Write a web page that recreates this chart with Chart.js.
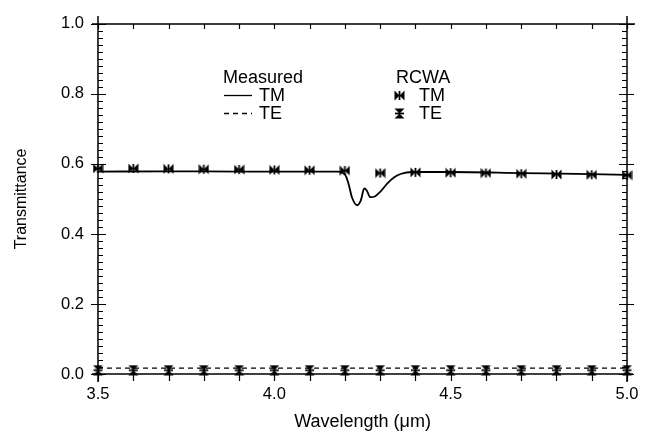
<!DOCTYPE html>
<html lang="en">
<head>
    <meta charset="UTF-8">
    <title>Transmittance vs Wavelength</title>
    <script src="https://cdn.jsdelivr.net/npm/chart.js@4.4.1/dist/chart.umd.min.js"></script>
    <style>
        html, body { margin: 0; padding: 0; background: #fff; }
        #wrap { width: 652px; height: 436px; position: relative; }
    </style>
</head>
<body>
    <div id="wrap"><canvas id="chart"></canvas></div>

    <script>
        // Measured TM (solid line)
        const tmWavelength = [3.5, 3.7, 3.9, 4.1, 4.18, 4.2, 4.21, 4.22, 4.235, 4.245, 4.255, 4.262, 4.272, 4.285, 4.3, 4.32, 4.34, 4.36, 4.39, 4.5, 4.7, 4.9, 5.0];
        const tmMeasured = [0.578, 0.579, 0.578, 0.578, 0.578, 0.570, 0.545, 0.505, 0.482, 0.495, 0.530, 0.524, 0.505, 0.507, 0.520, 0.544, 0.562, 0.572, 0.577, 0.577, 0.574, 0.571, 0.569];

        // Measured TE (dashed line)
        const teWavelength = [3.5, 3.75, 4.0, 4.25, 4.5, 4.75, 5.0];
        const teMeasured = [0.017, 0.017, 0.017, 0.017, 0.017, 0.017, 0.017];

        // RCWA calculations (markers)
        const rcwaWavelength = [3.5, 3.6, 3.7, 3.8, 3.9, 4.0, 4.1, 4.2, 4.3, 4.4, 4.5, 4.6, 4.7, 4.8, 4.9, 5.0];
        const rcwaTM = [0.587, 0.587, 0.586, 0.585, 0.584, 0.583, 0.582, 0.581, 0.574, 0.576, 0.575, 0.574, 0.572, 0.570, 0.569, 0.568];
        const rcwaTE = [0.011, 0.011, 0.011, 0.011, 0.011, 0.011, 0.011, 0.011, 0.011, 0.011, 0.011, 0.011, 0.011, 0.011, 0.011, 0.011];

        const yLabels = [0, 0.2, 0.4, 0.6, 0.8, 1.0];
        const xLabels = [3.5, 4.0, 4.5, 5.0];

        const FONT = "'Liberation Sans', Arial, sans-serif";

        function makeMarker(kind) {
            const c = document.createElement('canvas');
            c.width = 11; c.height = 11;
            const g = c.getContext('2d');
            g.fillStyle = '#000';
            g.beginPath();
            if (kind === 'bowtie') {
                g.moveTo(0.5, 0.5); g.lineTo(5.5, 5.5); g.lineTo(0.5, 10.5); g.closePath();
                g.moveTo(10.5, 0.5); g.lineTo(5.5, 5.5); g.lineTo(10.5, 10.5); g.closePath();
                g.fill();
                g.fillRect(4.6, 1, 1.8, 9);
            } else {
                g.moveTo(0.5, 0.5); g.lineTo(10.5, 0.5); g.lineTo(5.5, 5.5); g.closePath();
                g.moveTo(0.5, 10.5); g.lineTo(10.5, 10.5); g.lineTo(5.5, 5.5); g.closePath();
                g.fill();
                g.fillRect(1, 4.6, 9, 1.8);
            }
            return c;
        }
        const bowtie = makeMarker('bowtie');
        const hourglass = makeMarker('hourglass');

        const pts = (xs, ys) => xs.map((x, i) => ({ x: x, y: ys[i] }));

        // frame, ticks and the inset legend
        const framePlugin = {
            id: 'frame',
            afterDraw(chart) {
                const ctx = chart.ctx;
                const xs = chart.scales.x, ys = chart.scales.y;
                const L = xs.left, R = xs.right, T = ys.top, B = ys.bottom;
                ctx.save();
                ctx.strokeStyle = '#000';
                ctx.lineWidth = 1.5;
                ctx.beginPath();
                ctx.moveTo(L, T - 8); ctx.lineTo(L, B + 8);
                ctx.moveTo(R, T - 8); ctx.lineTo(R, B + 8);
                ctx.moveTo(L - 6, B); ctx.lineTo(R + 6, B);
                ctx.moveTo(L - 6, T); ctx.lineTo(R + 8, T);
                ctx.stroke();

                ctx.lineWidth = 1.2;
                ctx.beginPath();
                // y ticks every 0.02, longer at labelled values
                for (let i = 0; i <= 50; i++) {
                    const py = Math.round(ys.getPixelForValue(i * 0.02)) + 0.5;
                    const major = i % 10 === 0;
                    ctx.moveTo(major ? L - 7 : L, py); ctx.lineTo(L + (major ? 8 : 5), py);
                    ctx.moveTo(major ? R + 7 : R, py); ctx.lineTo(R - (major ? 8 : 5), py);
                }
                // x ticks every 0.1
                for (let i = 0; i <= 15; i++) {
                    const px = Math.round(xs.getPixelForValue(3.5 + i * 0.1)) + 0.5;
                    ctx.moveTo(px, B + 7); ctx.lineTo(px, B - 6);
                    ctx.moveTo(px, T); ctx.lineTo(px, T + 5);
                }
                ctx.stroke();

                // legend
                ctx.fillStyle = '#000';
                ctx.font = '18px ' + FONT;
                ctx.textBaseline = 'middle';
                ctx.textAlign = 'left';
                ctx.fillText('Measured', 223, 78);
                ctx.fillText('TM', 259, 96);
                ctx.fillText('TE', 259, 114);
                ctx.fillText('RCWA', 396, 78);
                ctx.fillText('TM', 419, 96);
                ctx.fillText('TE', 419, 114);
                ctx.lineWidth = 1.3;
                ctx.beginPath();
                ctx.moveTo(224, 95.5); ctx.lineTo(252, 95.5);
                ctx.stroke();
                ctx.setLineDash([5, 4]);
                ctx.beginPath();
                ctx.moveTo(224, 113.5); ctx.lineTo(252, 113.5);
                ctx.stroke();
                ctx.setLineDash([]);
                ctx.drawImage(bowtie, 394, 90);
                ctx.drawImage(hourglass, 394, 108);
                ctx.restore();
            }
        };

        new Chart(document.getElementById('chart'), {
            type: 'line',
            data: {
                datasets: [
                    {
                        label: 'Measured TM',
                        data: pts(tmWavelength, tmMeasured),
                        borderColor: '#000',
                        borderWidth: 1.8,
                        pointRadius: 0,
                        cubicInterpolationMode: 'monotone',
                        clip: false
                    },
                    {
                        label: 'Measured TE',
                        data: pts(teWavelength, teMeasured),
                        borderColor: '#000',
                        borderWidth: 1.3,
                        borderDash: [5, 4],
                        pointRadius: 0,
                        clip: false
                    },
                    {
                        label: 'RCWA TM',
                        data: pts(rcwaWavelength, rcwaTM),
                        showLine: false,
                        pointStyle: bowtie,
                        clip: false
                    },
                    {
                        label: 'RCWA TE',
                        data: pts(rcwaWavelength, rcwaTE),
                        showLine: false,
                        pointStyle: hourglass,
                        clip: false
                    }
                ]
            },
            options: {
                responsive: true,
                maintainAspectRatio: false,
                animation: false,
                layout: { padding: { top: 19, right: 25, left: 0, bottom: 0 } },
                plugins: {
                    legend: { display: false },
                    tooltip: { enabled: false }
                },
                scales: {
                    x: {
                        type: 'linear',
                        min: 3.5,
                        max: 5.0,
                        grid: { display: false, drawTicks: false, tickLength: 0 },
                        border: { display: false },
                        afterBuildTicks: s => { s.ticks = xLabels.map(v => ({ value: v })); },
                        afterFit: s => { s.height = 62; },
                        ticks: {
                            padding: 11,
                            color: '#000',
                            font: { family: FONT, size: 16.5 },
                            callback: v => v.toFixed(1)
                        },
                        title: {
                            display: true,
                            text: 'Wavelength (\u03bcm)',
                            color: '#000',
                            font: { family: FONT, size: 18 },
                            padding: { top: 0, bottom: 3 }
                        }
                    },
                    y: {
                        min: 0,
                        max: 1.0,
                        grid: { display: false, drawTicks: false, tickLength: 0 },
                        border: { display: false },
                        afterBuildTicks: s => { s.ticks = yLabels.map(v => ({ value: v })); },
                        afterFit: s => { s.width = 98; },
                        ticks: {
                            padding: 14,
                            color: '#000',
                            font: { family: FONT, size: 16.5 },
                            callback: v => v.toFixed(1)
                        },
                        title: {
                            display: true,
                            text: 'Transmittance',
                            color: '#000',
                            font: { family: FONT, size: 16 },
                            padding: { top: 12, bottom: 0 }
                        }
                    }
                }
            },
            plugins: [framePlugin]
        });
    </script>
</body>
</html>
